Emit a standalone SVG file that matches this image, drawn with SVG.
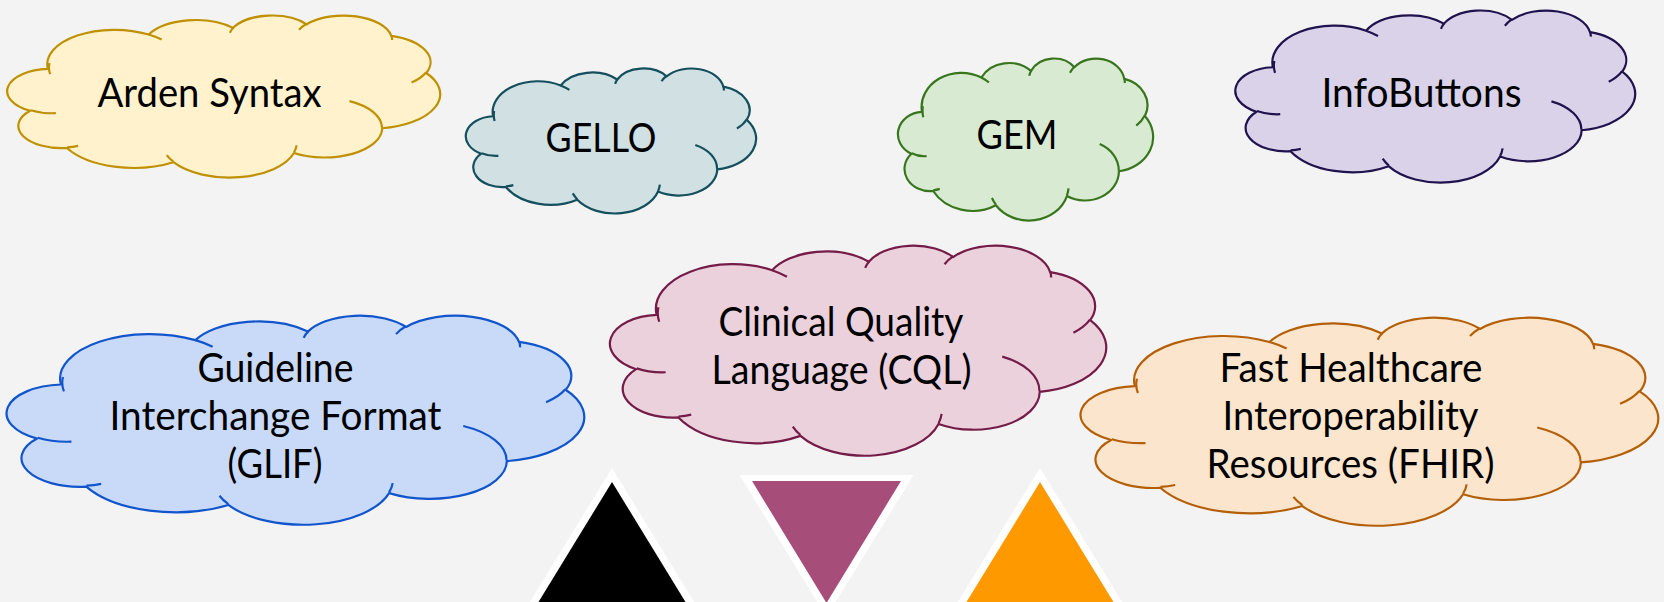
<svg xmlns="http://www.w3.org/2000/svg" xmlns:xlink="http://www.w3.org/1999/xlink" width="1664" height="602" viewBox="0 0 1664 602">
  <style>
    .body { stroke-linejoin: round; }
    .lines { fill: none; }
    #cloud-body, #cloud-lines { stroke-width: 2.2; vector-effect: non-scaling-stroke; }
    #cloud-lines { fill: none; }
    .label { font-family: Lato, "Open Sans", "Liberation Sans", sans-serif; font-size: 40px; fill: #000000; text-anchor: middle; }
    .yellow { fill: #FFF2CC; stroke: #BF9000; }
    .cyan { fill: #D0E0E3; stroke: #134F5C; }
    .green { fill: #D9EAD3; stroke: #38761D; }
    .purple { fill: #D9D2E9; stroke: #20124D; }
    .blue { fill: #C9DAF8; stroke: #1155CC; }
    .magenta { fill: #EAD1DC; stroke: #741B47; }
    .orange { fill: #FCE5CD; stroke: #B45F06; }
  </style>
  <defs>
    <!-- cloud outline in a 43200 x 43200 unit box -->
    <path id="cloud-body" vector-effect="non-scaling-stroke" d="M 3900 14370 A 6753 9190 0 0 1 14005 5202 A 5333 7267 0 0 1 22457 3430 A 4365 5945 0 0 1 29834 2478 A 4857 6595 0 0 1 38319 5573 A 5333 7273 0 0 1 41820 15457 A 6775 9220 0 0 1 37406 30199 A 5785 7867 0 0 1 28557 36810 A 6752 9215 0 0 1 16482 39262 A 7720 10543 0 0 1 5805 35466 A 4360 5918 0 0 1 2112 25547 A 4345 5945 0 0 1 3900 14370 Z"/>
    <!-- inner puff creases -->
    <path id="cloud-lines" vector-effect="non-scaling-stroke" d="M 4693 26177 A 4345 5945 0 0 1 2161 25381 M 6928 34899 A 4360 5918 0 0 1 5820 35280 M 16478 39090 A 6752 9215 0 0 1 15810 37349 M 28827 34751 A 6752 9215 0 0 1 28561 36660 M 34129 22954 A 5785 7867 0 0 1 37381 30090 M 41798 15354 A 5333 7273 0 0 1 40350 18030 M 38324 5426 A 4857 6595 0 0 1 38400 6690 M 29078 3952 A 4857 6595 0 0 1 29820 2340 M 22141 4720 A 4365 5945 0 0 1 22500 3331 M 14000 5192 A 6753 9190 0 0 1 15300 6541 M 4127 15789 A 6753 9190 0 0 1 4056 12813"/>
  </defs>

  <rect x="0" y="0" width="1664" height="602" fill="#F3F3F3"/>

  <g id="arden-syntax">
    <use href="#cloud-body" class="body yellow" transform="translate(9 15) scale(0.009977 0.003750)"/>
    <use href="#cloud-lines" class="lines yellow" transform="translate(9 15) scale(0.009977 0.003750)"/>
    <text class="label" x="209.5" y="107" textLength="224" lengthAdjust="spacingAndGlyphs">Arden Syntax</text>
  </g>

  <g id="gello">
    <use href="#cloud-body" class="body cyan" transform="translate(467 68) scale(0.006690 0.003356)"/>
    <use href="#cloud-lines" class="lines cyan" transform="translate(467 68) scale(0.006690 0.003356)"/>
    <text class="label" x="601" y="152" textLength="111" lengthAdjust="spacingAndGlyphs">GELLO</text>
  </g>

  <g id="gem">
    <use href="#cloud-body" class="body green" transform="translate(899 58) scale(0.005880 0.003750)"/>
    <use href="#cloud-lines" class="lines green" transform="translate(899 58) scale(0.005880 0.003750)"/>
    <text class="label" x="1017" y="149" textLength="81" lengthAdjust="spacingAndGlyphs">GEM</text>
  </g>

  <g id="infobuttons">
    <use href="#cloud-body" class="body purple" transform="translate(1237 10) scale(0.009213 0.003981)"/>
    <use href="#cloud-lines" class="lines purple" transform="translate(1237 10) scale(0.009213 0.003981)"/>
    <text class="label" x="1421.5" y="107" textLength="200" lengthAdjust="spacingAndGlyphs">InfoButtons</text>
  </g>

  <g id="glif">
    <use href="#cloud-body" class="body blue" transform="translate(9 315) scale(0.013310 0.004838)"/>
    <use href="#cloud-lines" class="lines blue" transform="translate(9 315) scale(0.013310 0.004838)"/>
    <text class="label" x="275.5" y="382" textLength="156" lengthAdjust="spacingAndGlyphs">Guideline</text>
    <text class="label" x="275.5" y="430" textLength="332" lengthAdjust="spacingAndGlyphs">Interchange Format</text>
    <text class="label" x="275" y="478" textLength="95" lengthAdjust="spacingAndGlyphs">(GLIF)</text>
  </g>

  <g id="cql">
    <use href="#cloud-body" class="body magenta" transform="translate(612 245) scale(0.011435 0.004861)"/>
    <use href="#cloud-lines" class="lines magenta" transform="translate(612 245) scale(0.011435 0.004861)"/>
    <text class="label" x="841" y="336" textLength="245" lengthAdjust="spacingAndGlyphs">Clinical Quality</text>
    <text class="label" x="841.5" y="384" textLength="260" lengthAdjust="spacingAndGlyphs">Language (CQL)</text>
  </g>

  <g id="fhir">
    <use href="#cloud-body" class="body orange" transform="translate(1083 317) scale(0.013310 0.004815)"/>
    <use href="#cloud-lines" class="lines orange" transform="translate(1083 317) scale(0.013310 0.004815)"/>
    <text class="label" x="1351" y="382" textLength="263" lengthAdjust="spacingAndGlyphs">Fast Healthcare</text>
    <text class="label" x="1350.5" y="430" textLength="256" lengthAdjust="spacingAndGlyphs">Interoperability</text>
    <text class="label" x="1350.5" y="478" textLength="288" lengthAdjust="spacingAndGlyphs">Resources (FHIR)</text>
  </g>

  <!-- triangle markers along the bottom edge -->
  <g id="triangle-black">
    <polygon points="612,468 717.4,640 506.6,640" fill="#FFFFFF"/>
    <polygon points="612,482 708.8,640 515.2,640" fill="#000000"/>
  </g>
  <g id="triangle-magenta">
    <polygon points="739.5,475 913.5,475 826.5,617" fill="#FFFFFF"/>
    <polygon points="752,481 901,481 826.5,603" fill="#A64D79"/>
  </g>
  <g id="triangle-orange">
    <polygon points="1040,468 1145.4,640 934.6,640" fill="#FFFFFF"/>
    <polygon points="1040,482 1136.8,640 943.2,640" fill="#FF9900"/>
  </g>
</svg>
